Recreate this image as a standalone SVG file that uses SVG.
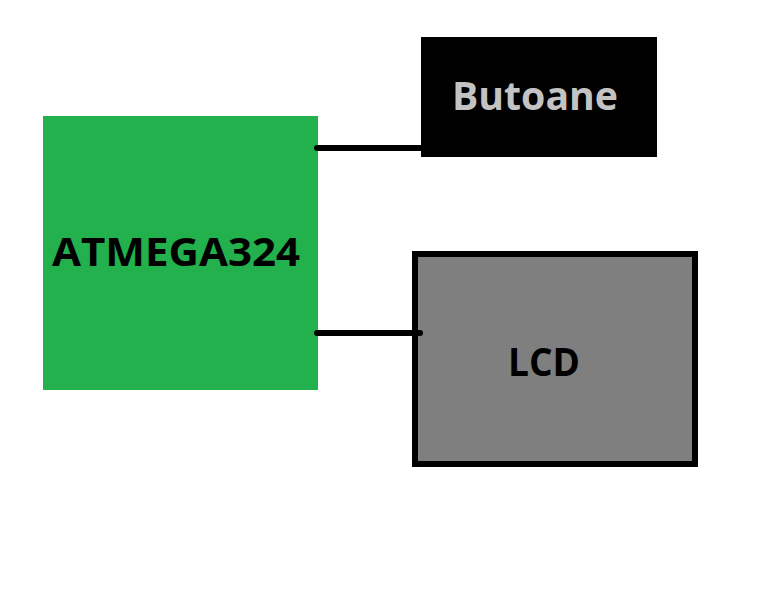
<svg xmlns="http://www.w3.org/2000/svg" width="768" height="614" viewBox="0 0 768 614">
<style>
.t{font-family:"Open Sans","Liberation Sans",sans-serif;font-weight:bold;font-size:40px;text-anchor:middle}
.c{stroke:#000;stroke-width:6;stroke-linecap:round;fill:none}
</style>
<rect width="768" height="614" fill="#fff"/>
<g id="atmega"><rect x="43" y="116" width="275" height="274" fill="#22b14c"/><text class="t" x="176" y="266" fill="#000" textLength="248" lengthAdjust="spacingAndGlyphs">ATMEGA324</text></g>
<g id="butoane"><rect x="421" y="37" width="236" height="120" fill="#000"/><text class="t" x="535" y="110" fill="#c3c3c3" textLength="166" lengthAdjust="spacingAndGlyphs">Butoane</text></g>
<g id="lcd"><rect x="415" y="254" width="280" height="210" fill="#7f7f7f" stroke="#000" stroke-width="6"/><text class="t" x="544" y="376" fill="#000" textLength="72" lengthAdjust="spacingAndGlyphs">LCD</text></g>
<g id="connectors"><line class="c" x1="317" y1="148" x2="421" y2="148"/><line class="c" x1="317" y1="333" x2="420" y2="333"/></g>
</svg>
